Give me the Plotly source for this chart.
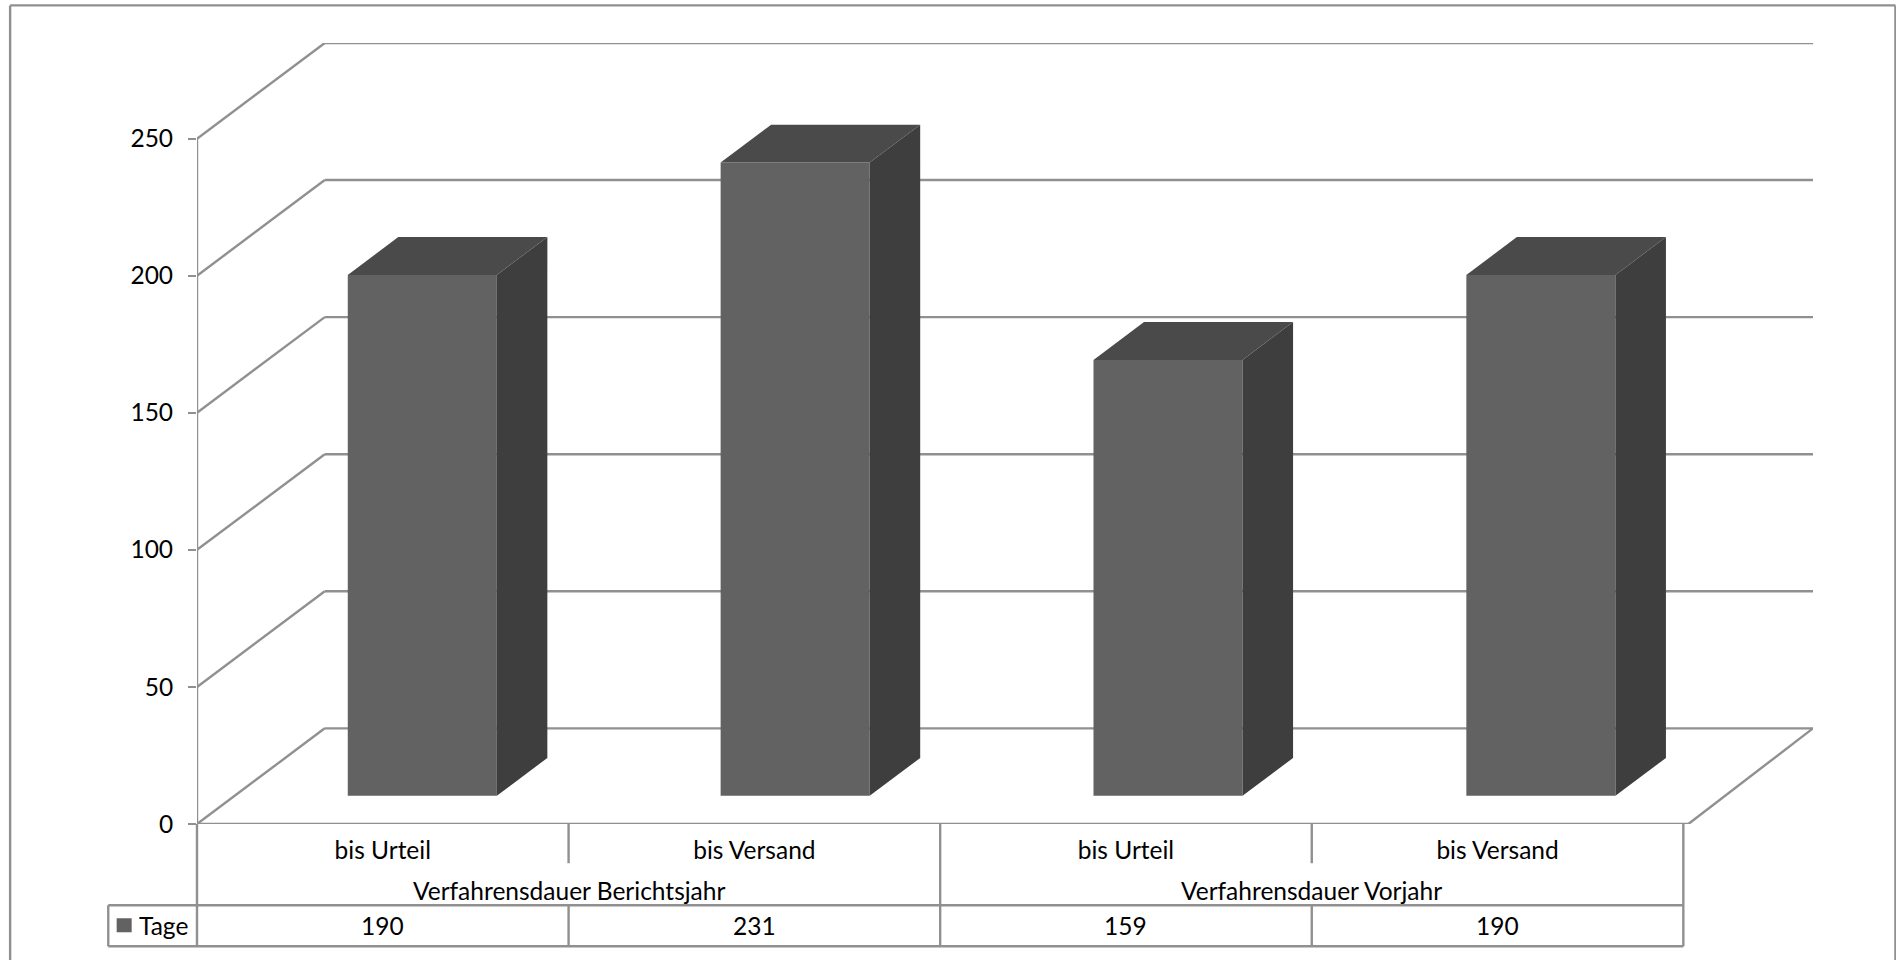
import plotly.graph_objects as go

# ---- data ----
sub_categories = ["bis Urteil", "bis Versand", "bis Urteil", "bis Versand"]
group_labels = ["Verfahrensdauer Berichtsjahr", "Verfahrensdauer Vorjahr"]
series_name = "Tage"
values = [190, 231, 159, 190]
y_ticks = [0, 50, 100, 150, 200, 250]
bar_index = [0, 1, 2, 3]

# ---- style / projection ----
GRID = "#909090"
FRONT, SIDE, TOP = "#626262", "#3e3e3e", "#4a4a4a"
FONT = "Lato"
FS = 24.5
LW = 2.4

W, H = 1896, 960
L, R, T, B = 197.3, 1812.6, 43.3, 823.8      # plot box in pixels
PX_X = 372.7                                 # pixels per bar step
PX_Y = (B - T) / (250 + 34.9)                # pixels per value unit
X0 = -(422.5 - L) / PX_X
X1 = X0 + (R - L) / PX_X
WALL_DX = (325.0 - L) / PX_X                 # oblique depth of chart
WALL_DY = 34.9
FRONT_R = X0 + (1688.0 - L) / PX_X           # right end of front floor edge
BAR_BASE = 10.3
BAR_W = 149.0 / PX_X
BAR_DX = 50.5 / PX_X
BAR_DY = 13.8


def px(x):
    return (x - L) / (R - L)


def py(y):
    return (B - y) / (B - T)


fig = go.Figure()

# front faces
fig.add_trace(go.Bar(
    x=bar_index, y=values, base=BAR_BASE, width=BAR_W,
    marker=dict(color=FRONT, line=dict(width=0)), name=series_name,
    customdata=sub_categories, hovertemplate="%{customdata}: %{y}<extra></extra>",
))

# side and top faces
for i, v in zip(bar_index, values):
    xl, xr = i - BAR_W / 2, i + BAR_W / 2
    yb, yt = BAR_BASE, BAR_BASE + v
    fig.add_trace(go.Scatter(
        x=[xr, xr + BAR_DX, xr + BAR_DX, xr, xr],
        y=[yb, yb + BAR_DY, yt + BAR_DY, yt, yb],
        fill="toself", fillcolor=SIDE, mode="lines", line=dict(width=0),
        hoverinfo="skip", cliponaxis=False))
    fig.add_trace(go.Scatter(
        x=[xl, xl + BAR_DX, xr + BAR_DX, xr, xl],
        y=[yt, yt + BAR_DY, yt + BAR_DY, yt, yt],
        fill="toself", fillcolor=TOP, mode="lines", line=dict(width=0),
        hoverinfo="skip", cliponaxis=False))

shapes = []


def dline(x0, y0, x1, y1, w=LW):
    shapes.append(dict(type="line", xref="x", yref="y", x0=x0, y0=y0, x1=x1, y1=y1,
                       line=dict(color=GRID, width=w), layer="below"))


def pline(x0, y0, x1, y1, w=LW, color=GRID):
    shapes.append(dict(type="line", xref="paper", yref="paper",
                       x0=px(x0), y0=py(y0), x1=px(x1), y1=py(y1),
                       line=dict(color=color, width=w), layer="below"))


# walls
dline(X0, 0, X0, y_ticks[-1])
for t in y_ticks:
    dline(X0, t, X0 + WALL_DX, t + WALL_DY)
    dline(X0 + WALL_DX, t + WALL_DY, X1, t + WALL_DY)
dline(X0, 0, FRONT_R, 0)
dline(FRONT_R, 0, X1, WALL_DY)

# table
TBL_L, TBL_R = 197.3, 1683.0
COL = (TBL_R - TBL_L) / 4
TBL_T, TBL_B = 905.0, 946.0
TBL_KEY = 108.6
pline(TBL_L, B, TBL_L, TBL_B)
pline(TBL_R, B, TBL_R, TBL_B)
pline(TBL_KEY, TBL_T, TBL_R, TBL_T)
pline(TBL_KEY, TBL_B, TBL_R, TBL_B)
pline(TBL_KEY, TBL_T, TBL_KEY, TBL_B)
pline(TBL_L + COL, B, TBL_L + COL, 863)
pline(TBL_L + 3 * COL, B, TBL_L + 3 * COL, 863)
pline(TBL_L + 2 * COL, B, TBL_L + 2 * COL, TBL_T)
for k in (1, 2, 3):
    pline(TBL_L + k * COL, TBL_T, TBL_L + k * COL, TBL_B)

# outer frame
pline(10.5, 5.7, 1895, 5.7)
pline(10.5, 5.7, 10.5, 975)
pline(1895, 5.7, 1895, 975)

# legend key
shapes.append(dict(type="rect", xref="paper", yref="paper",
                   x0=px(117), x1=px(132), y0=py(932), y1=py(918),
                   fillcolor=FRONT, line=dict(width=0)))

annotations = []


def label(text, x, y, anchor="center"):
    annotations.append(dict(text=text, xref="paper", yref="paper", x=px(x), y=py(y),
                            xanchor=anchor, yanchor="middle", showarrow=False,
                            font=dict(family=FONT, size=FS, color="black")))


for k, g in enumerate(group_labels):
    label(g, TBL_L + COL * (2 * k + 1), 890)
for k, v in enumerate(values):
    label(str(v), TBL_L + COL * (k + 0.5), 925)
label(series_name, 137.5, 925, "left")

fig.update_layout(
    width=W, height=H, autosize=False,
    margin=dict(l=L, r=W - R, t=T, b=H - B, pad=0),
    paper_bgcolor="white", plot_bgcolor="rgba(0,0,0,0)",
    showlegend=False, shapes=shapes, annotations=annotations,
    font=dict(family=FONT, size=FS, color="black"),
    xaxis=dict(
        range=[X0, X1], showgrid=False, zeroline=False, showline=False, ticks="",
        tickmode="array",
        tickvals=[X0 + (COL * (k + 0.5)) / PX_X for k in range(4)],
        ticktext=sub_categories, ticklabelstandoff=9,
        tickfont=dict(family=FONT, size=FS, color="black"),
    ),
    yaxis=dict(
        range=[0, 250 + WALL_DY], showgrid=False, zeroline=False, showline=False,
        tickmode="array", tickvals=y_ticks, ticks="outside", ticklen=8, tickwidth=LW,
        tickcolor=GRID, ticklabelstandoff=10,
        tickfont=dict(family=FONT, size=FS, color="black"),
    ),
)

fig.write_html("out.html", config={"displayModeBar": False}, post_script=(
    "document.body.style.margin='0';"
    "document.documentElement.style.overflow='hidden';"
))
